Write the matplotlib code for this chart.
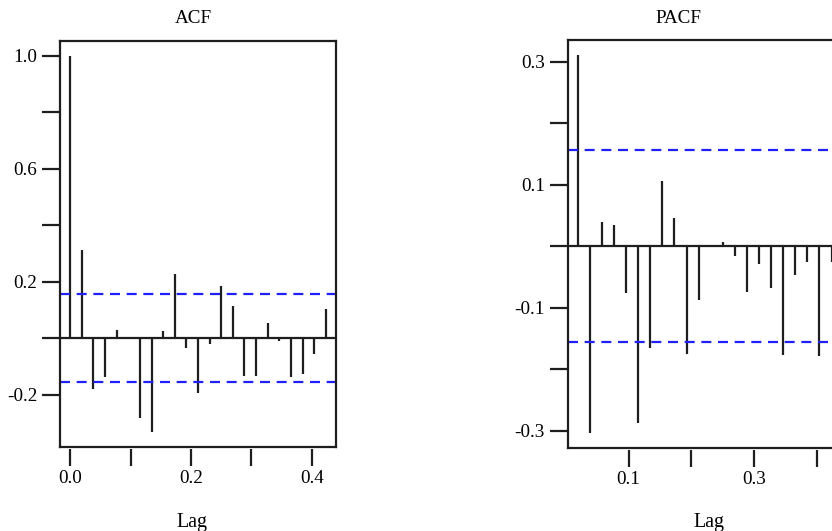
import numpy as np
import matplotlib
matplotlib.use("Agg")
import matplotlib.pyplot as plt

plt.rcParams['font.family'] = ['Liberation Serif', 'DejaVu Serif']
plt.rcParams['lines.scale_dashes'] = False

freq = 52
acf_lags = np.arange(0, 23) / freq
acf_vals = [1.0, 0.313, -0.180, -0.139, 0.030, 0.0, -0.284, -0.331, 0.026, 0.226,
            -0.035, -0.194, -0.022, 0.185, 0.114, -0.133, -0.133, 0.055, -0.009,
            -0.139, -0.127, -0.056, 0.102]
pacf_lags = np.arange(1, 23) / freq
pacf_vals = [0.311, -0.303, 0.040, 0.034, -0.076, -0.287, -0.166, 0.106, 0.046,
             -0.175, -0.087, 0.0, 0.007, -0.016, -0.074, -0.029, -0.068, -0.177,
             -0.047, -0.026, -0.179, -0.026]
ci = 0.156

acf_yticks = [-0.2, 0.0, 0.2, 0.4, 0.6, 0.8, 1.0]
acf_yticklabels = ["-0.2", "", "0.2", "", "0.6", "", "1.0"]
acf_xticks = [0.0, 0.1, 0.2, 0.3, 0.4]
acf_xticklabels = ["0.0", "", "0.2", "", "0.4"]
pacf_yticks = [-0.3, -0.2, -0.1, 0.0, 0.1, 0.2, 0.3]
pacf_yticklabels = ["-0.3", "", "-0.1", "", "0.1", "", "0.3"]
pacf_xticks = [0.1, 0.2, 0.3, 0.4]
pacf_xticklabels = ["0.1", "", "0.3", ""]

W, H = 832, 531
fig = plt.figure(figsize=(W / 100, H / 100), dpi=100)

ink = '#1e1e1e'
blue = '#1f1fff'
fs = 13.8
fs_lab = 14.3


def rlim(vals, pad=0.04):
    lo, hi = min(vals), max(vals)
    d = (hi - lo) * pad
    return lo - d, hi + d


def panel(rect, lags, vals, yt, ytl, xt, xtl):
    ax = fig.add_axes(rect)
    ax.set_xlim(*rlim(list(lags)))
    ax.set_ylim(*rlim(list(vals) + [ci, -ci]))
    ax.vlines(lags, 0, vals, color=ink, lw=1.6)
    ax.axhline(0, color=ink, lw=1.6)
    for y in (ci, -ci):
        ax.axhline(y, color=blue, lw=1.6, dashes=(7.2, 4.8))
    for s in ('left', 'top', 'right'):
        ax.spines[s].set_linewidth(1.6)
        ax.spines[s].set_color(ink)
    ax.spines['bottom'].set_position(('outward', 2))
    ax.spines['bottom'].set_color('none')
    ax.plot([0, 1], [0, 0], transform=ax.transAxes, color=ink, lw=1.6,
            clip_on=False, solid_capstyle='projecting')
    ax.set_yticks(yt)
    ax.set_yticklabels(ytl)
    ax.set_xticks(xt)
    ax.set_xticklabels(xtl)
    ax.tick_params(axis='y', direction='out', length=13, width=1.6, color=ink,
                   pad=3.5, labelsize=fs)
    ax.tick_params(axis='x', direction='out', length=12, width=1.6, color=ink,
                   pad=3, labelsize=fs)
    return ax


panel([60 / W, 1 - 446.7 / H, 276 / W, 406 / H], acf_lags, acf_vals,
      acf_yticks, acf_yticklabels, acf_xticks, acf_xticklabels)
panel([567.7 / W, 1 - 447.7 / H, 274 / W, 407.7 / H], pacf_lags, pacf_vals,
      pacf_yticks, pacf_yticklabels, pacf_xticks, pacf_xticklabels)

fig.text(193 / W, 1 - 22.7 / H, "ACF", ha='center', va='baseline', fontsize=fs)
fig.text(678 / W, 1 - 23.3 / H, "PACF", ha='center', va='baseline', fontsize=fs)
fig.text(191.7 / W, 1 - 527.3 / H, "Lag", ha='center', va='baseline', fontsize=fs_lab)
fig.text(709 / W, 1 - 527.3 / H, "Lag", ha='center', va='baseline', fontsize=fs_lab)

fig.savefig("out.png", dpi=100)
